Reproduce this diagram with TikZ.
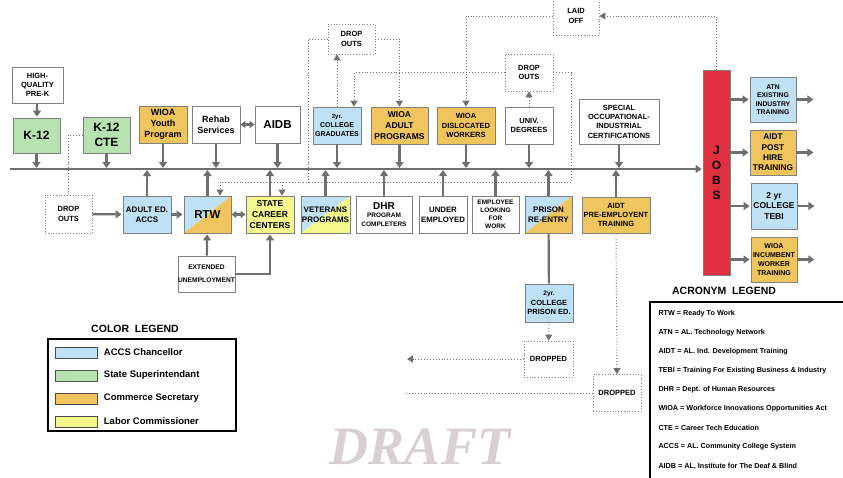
\documentclass[tikz,border=0pt]{standalone}
\usepackage{fontspec}
\setmainfont{Liberation Sans}
\newfontfamily\draftfont{Liberation Serif}
\usetikzlibrary{arrows.meta}

\definecolor{accsblue}{HTML}{BFE1F5}
\definecolor{supgreen}{HTML}{B6E3B0}
\definecolor{comorange}{HTML}{F0C55E}
\definecolor{labyellow}{HTML}{F4F78C}
\definecolor{jobred}{HTML}{E0303F}
\definecolor{arrowgray}{HTML}{6F6F6F}
\definecolor{framegray}{HTML}{808080}
\definecolor{draftgray}{HTML}{D9D0D3}

\tikzset{
  box/.style={draw=framegray, line width=0.8pt, inner sep=0pt, align=center},
  dropbox/.style={box, dotted},
  fs/.style={font=\bfseries\linespread{1.25}\fontsize{#1}{#1}\selectfont},
  sz/.style 2 args={minimum width=#1, minimum height=#2},
  halfsplit/.style 2 args={path picture={
    \fill[#1] (path picture bounding box.north west) -- (path picture bounding box.north east)
      -- (path picture bounding box.south west) -- cycle;
    \fill[#2] (path picture bounding box.north east) -- (path picture bounding box.south east)
      -- (path picture bounding box.south west) -- cycle;}},
  arr/.style={draw=arrowgray, line width=2.2pt, -{Triangle[width=8pt,length=6pt]}, shorten >=1pt},
  dbl/.style={draw=arrowgray, line width=2.2pt, {Triangle[width=7pt,length=5pt]}-{Triangle[width=7pt,length=5pt]}},
  dotline/.style={draw=arrowgray, line width=0.9pt, dotted},
  dotarr/.style={dotline, -{Triangle[width=7pt,length=6pt]}}
}

\begin{document}
\begin{tikzpicture}[x=1pt,y=-1pt]
  \fill[white] (0,0) rectangle (843,477);
  \useasboundingbox (0,0) rectangle (843,477);

  % top row
  \node[box, fs=7.5, sz={51}{36}] (prek) at (37.5,85) {HIGH-\\QUALITY\\PRE-K};
  \node[box, fill=supgreen, fs=12, sz={47}{35}] (k12) at (36.5,135.5) {K-12};
  \node[box, fill=supgreen, fs=12, sz={47}{36}] (k12cte) at (106.5,135) {K-12\\CTE};
  \node[box, fill=comorange, fs=9, sz={48}{37}] (youth) at (163,124.5) {WIOA\\Youth\\Program};
  \node[box, fs=9, sz={48}{37}] (rehab) at (216,124.5) {Rehab\\Services};
  \node[box, fs=11.5, sz={45}{37}] (aidb) at (277.5,124.5) {AIDB};
  \node[box, fill=accsblue, fs=7, sz={48}{37}] (grad) at (337,125.5) {{\fontsize{6}{6}\selectfont 2yr.}\\COLLEGE\\GRADUATES};
  \node[box, fill=comorange, fs=8.5, sz={57}{37}] (adult) at (399.5,125.5) {WIOA\\ADULT\\PROGRAMS};
  \node[box, fill=comorange, fs=7.5, sz={58}{37}] (disloc) at (466,125.5) {WIOA\\DISLOCATED\\WORKERS};
  \node[box, fs=7.5, sz={48}{37}] (univ) at (529,125.5) {UNIV.\\DEGREES};
  \node[box, fs=7.5, sz={80}{45}] (spec) at (619,121.5) {SPECIAL\\OCCUPATIONAL-\\INDUSTRIAL\\CERTIFICATIONS};
  \node[dropbox, fs=7.5, sz={47}{30}] (dropa) at (351.5,39) {DROP\\OUTS};
  \node[dropbox, fs=7.5, sz={48}{37}] (dropb) at (529,72.5) {DROP\\OUTS};
  \node[dropbox, fs=7.5, sz={46}{38}] (laid) at (576,16) {LAID\\OFF};

  % jobs and after
  \node[box, fill=jobred, fs=12, sz={27}{205}] (jobs) at (716.5,172.5) {J\\O\\B\\S};
  \node[box, fill=accsblue, fs=6.8, sz={46}{45}] (atn) at (773,99.5) {ATN\\EXISTING\\INDUSTRY\\TRAINING};
  \node[box, fill=comorange, fs=8.3, sz={46}{45}] (posthire) at (773,152.5) {AIDT\\POST\\HIRE\\TRAINING};
  \node[box, fill=accsblue, fs=8.5, sz={46}{46}] (tebi) at (774,206) {2 yr\\COLLEGE\\TEBI};
  \node[box, fill=comorange, fs=7, sz={46}{45}] (incumb) at (774,259.5) {WIOA\\INCUMBENT\\WORKER\\TRAINING};

  % bottom row
  \node[dropbox, fs=7.5, sz={47}{38}] (dropc) at (68.5,214) {DROP\\OUTS};
  \node[box, fill=accsblue, fs=8, sz={48}{37}] (adulted) at (147,214.5) {ADULT ED.\\ACCS};
  \node[box, halfsplit={accsblue}{comorange}, fs=11.5, sz={47}{37}] (rtw) at (207.5,214.5) {RTW};
  \node[box, fill=labyellow, fs=8.5, sz={48}{37}] (career) at (270,214.5) {STATE\\CAREER\\CENTERS};
  \node[box, fs=6.7, sz={57}{36}] (extend) at (206.5,274) {EXTENDED\\[5pt]UNEMPLOYMENT};
  \node[box, halfsplit={accsblue}{labyellow}, fs=8, sz={49}{37}] (vets) at (325.5,214.5) {VETERANS\\PROGRAMS};
  \node[box, fs=6.5, sz={56}{37}] (dhr) at (384,214.5) {{\fontsize{10}{10}\selectfont DHR}\\PROGRAM\\COMPLETERS};
  \node[box, fs=7.8, sz={48}{37}] (under) at (443,214.5) {UNDER\\EMPLOYED};
  \node[box, fs=6.5, sz={47}{37}] (looking) at (495.5,214.5) {EMPLOYEE\\LOOKING\\FOR\\WORK};
  \node[box, halfsplit={accsblue}{comorange}, fs=8, sz={47}{37}] (prison) at (548.5,214.5) {PRISON\\RE-ENTRY};
  \node[box, fill=comorange, fs=7.5, sz={68}{36}] (preemp) at (616,215) {AIDT\\PRE-EMPLOYENT\\TRAINING};
  \node[box, fill=accsblue, fs=7.5, sz={48}{38}] (prised) at (549,303) {{\fontsize{6.5}{6.5}\selectfont 2yr.}\\COLLEGE\\PRISON ED.};
  \node[dropbox, fs=7.5, sz={49}{36}] (droppeda) at (548.5,359) {DROPPED};
  \node[dropbox, fs=7.5, sz={48}{37}] (droppedb) at (617,393) {DROPPED};

  \coordinate (busL) at (10,169);
  \coordinate (dl) at (308,182);
  \coordinate (dr) at (571,182);
  \coordinate (outa) at (407,359);
  \coordinate (outb) at (405,393);

  % solid connectors
  \draw[arr] (prek) -- (k12);
  \foreach \n in {k12,k12cte,youth,rehab,aidb,grad,adult,disloc,univ,spec}
    \draw[arr] (\n.south) -- (\n.south |- busL);
  \foreach \n in {adulted,rtw,career,vets,dhr,under,looking,prison,preemp}
    \draw[arr] (\n.north) -- (\n.north |- busL);
  \draw[arr] (busL) -- (busL -| jobs.west);
  \draw[dbl] (rehab) -- (aidb);
  \draw[arr] (dropc) -- (adulted);
  \draw[arr] (adulted) -- (rtw);
  \draw[dbl] (rtw) -- (career);
  \draw[arr] (extend) -- (rtw);
  \draw[arr] (extend.east) -| (career.south);
  \draw[draw=arrowgray, line width=2.2pt] (prison) -- (prised);
  \foreach \n in {atn,posthire,tebi,incumb} {
    \draw[arr] (jobs.east |- \n.west) -- (\n.west);
    \draw[arr] (\n.east) -- ++(18,0);
  }

  % dotted connectors
  \draw[dotline] (k12cte.west) -| (dropc.north);
  \draw[dotarr] (grad.north) -- (grad.north |- dropa.south);
  \draw[dotarr] (dropa.east) -| (adult.north);
  \draw[dotline] (dropa.west) -| (dl);
  \draw[dotarr] (dropb.west) -| ([xshift=17]grad.north);
  \draw[dotarr] (univ) -- (dropb);
  \draw[dotline] (dropb.east) -| (dr);
  \draw[dotarr] (dr) -| ([xshift=12.5]rtw.north);
  \draw[dotarr] ([xshift=12]career.north |- dl) -- ([xshift=12]career.north);
  \draw[dotarr] (jobs.north) |- (laid.east);
  \draw[dotarr] (laid.west) -| (disloc.north);
  \draw[dotarr] (prised) -- (droppeda);
  \draw[dotarr] (droppeda.west) -- (outa);
  \draw[dotarr] (preemp.south) -- (droppedb.north);
  \draw[dotline] (droppedb.west) -- (outb);

  % color legend
  \node[fs=10.5] (clegtitle) at (135,329) {COLOR\ \ LEGEND};
  \node[draw, line width=1.5pt, sz={188}{92}] (cleg) at (142,385) {};
  \foreach \c/\t [count=\i] in {accsblue/ACCS Chancellor, supgreen/State Superintendant,
      comorange/Commerce Secretary, labyellow/Labor Commissioner} {
    \node[box, draw=black!70, fill=\c, sz={42}{11}] (sw\i) at (76,{329.5+23*\i}) {};
    \node[fs=9.5, anchor=west] (swt\i) at ([xshift=3]sw\i.east) {\t};
  }

  % acronym legend
  \node[fs=10.5] (alegtitle) at (724,291) {ACRONYM\ \ LEGEND};
  \node[draw, line width=1.5pt, sz={205}{188}] (aleg) at (752.5,396) {};
  \foreach \t [count=\i] in {RTW = Ready To Work, ATN = AL. Technology Network,
      AIDT = AL. Ind. Development Training, TEBI = Training For Existing Business \& Industry,
      DHR = Dept. of Human Resources, WIOA = Workforce Innovations Opportunities Act,
      CTE = Career Tech Education, ACCS = AL. Community College System,
      {AIDB = AL, Institute for The Deaf \& Blind}}
    \node[fs=7.2, anchor=west] (acr\i) at (655,{295+19*\i}) {\t};

  \node[font=\draftfont\bfseries\itshape\fontsize{54}{54}\selectfont, text=draftgray] (draft) at (420,447) {DRAFT};
\end{tikzpicture}
\end{document}
